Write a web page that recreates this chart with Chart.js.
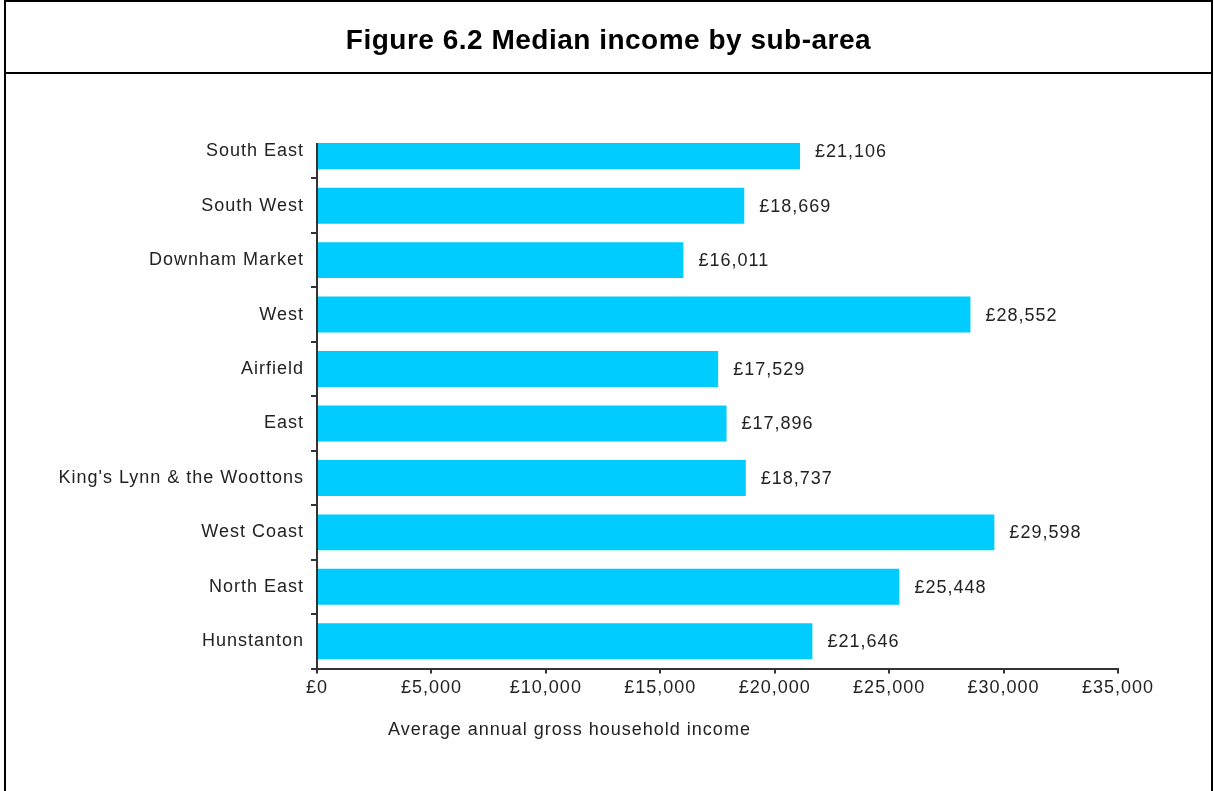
<!DOCTYPE html>
<html>
<head>
<meta charset="utf-8">
<title>Figure 6.2 Median income by sub-area</title>
<script src="https://cdn.jsdelivr.net/npm/chart.js@4.4.1/dist/chart.umd.min.js"></script>
<style>
  html, body { margin: 0; padding: 0; background: #fff; }
  body { width: 1214px; height: 791px; overflow: hidden; position: relative;
         font-family: "Liberation Sans", Arial, sans-serif; }
  #chart { position: absolute; left: 0; top: 0; }
  .frame { position: absolute; left: 4px; top: 0; width: 1205px; height: 820px;
           border: 2px solid #000; pointer-events: none; }
  .header { position: absolute; left: 0; top: 0; width: 100%; height: 70px;
            border-bottom: 2px solid #000; }
  .header h1 { margin: 0; position: absolute; left: 0; right: 0; top: 24px;
               font-size: 28px; line-height: 28px; font-weight: bold;
               letter-spacing: 0.5px; text-align: center; color: #000; }
</style>
</head>
<body>
<canvas id="chart" width="1214" height="791"></canvas>
<div class="frame">
  <div class="header"><h1>Figure 6.2 Median income by sub-area</h1></div>
</div>
<script>
// Sub-areas, top to bottom
const categories = [
  'South East', 'South West', 'Downham Market', 'West', 'Airfield', 'East',
  "King's Lynn & the Woottons", 'West Coast', 'North East', 'Hunstanton'
];
// Median annual gross household income (£)
const medianIncome = [21106, 18669, 16011, 28552, 17529, 17896, 18737, 29598, 25448, 21646];
// Income axis ticks (£)
const incomeTicks = [0, 5000, 10000, 15000, 20000, 25000, 30000, 35000];
const axisTitle = 'Average annual gross household income';

const FONT = '"Liberation Sans", Arial, sans-serif';
const INK = '#222';
const AXIS = '#333';
const TOP_TRIM = 19; // the first band is trimmed at the top of the plot

const fmt = v => '£' + Number(v).toLocaleString('en-GB');

// Slightly spaced lettering for all canvas text
const spacing = {
  id: 'spacing',
  beforeDraw(chart) { chart.ctx.letterSpacing = '1px'; }
};

// Vertical category axis line, starting where the plot begins
const yAxisLine = {
  id: 'yAxisLine',
  afterDatasetsDraw(chart) {
    const { ctx, chartArea: a } = chart;
    ctx.save();
    ctx.strokeStyle = AXIS;
    ctx.lineWidth = 2;
    ctx.beginPath();
    ctx.moveTo(a.left, a.top + TOP_TRIM);
    ctx.lineTo(a.left, a.bottom);
    ctx.stroke();
    ctx.restore();
  }
};

// Value labels to the right of each bar
const valueLabels = {
  id: 'valueLabels',
  afterDatasetsDraw(chart) {
    const ctx = chart.ctx;
    const meta = chart.getDatasetMeta(0);
    ctx.save();
    ctx.font = '18px ' + FONT;
    ctx.fillStyle = INK;
    ctx.textAlign = 'left';
    ctx.textBaseline = 'middle';
    meta.data.forEach((bar, i) => {
      ctx.fillText(fmt(medianIncome[i]), bar.x + 15, bar.y + 1);
    });
    ctx.restore();
  }
};

// Income axis title
const xTitle = {
  id: 'xTitle',
  afterDraw(chart) {
    const { ctx, chartArea: a } = chart;
    ctx.save();
    ctx.font = '18px ' + FONT;
    ctx.fillStyle = INK;
    ctx.textAlign = 'left';
    ctx.textBaseline = 'alphabetic';
    ctx.fillText(axisTitle, a.left + 71, a.bottom + 66);
    ctx.restore();
  }
};

new Chart(document.getElementById('chart'), {
  type: 'bar',
  data: {
    labels: categories,
    datasets: [{
      data: medianIncome,
      backgroundColor: '#00CCFF',
      borderWidth: 0,
      barPercentage: 0.66,
      categoryPercentage: 1,
      clip: { left: 0, top: -TOP_TRIM, right: 0, bottom: 0 }
    }]
  },
  options: {
    indexAxis: 'y',
    responsive: false,
    animation: false,
    events: [],
    layout: { padding: { top: 124, right: 96, left: 0, bottom: 0 } },
    plugins: {
      legend: { display: false },
      tooltip: { enabled: false },
      title: { display: false }
    },
    scales: {
      x: {
        type: 'linear',
        min: incomeTicks[0],
        max: incomeTicks[incomeTicks.length - 1],
        afterBuildTicks(s) { s.ticks = incomeTicks.map(v => ({ value: v })); },
        afterFit(s) { s.height = 122.5; },
        ticks: {
          font: { size: 18, family: FONT },
          color: INK,
          padding: 4,
          maxRotation: 0,
          autoSkip: false,
          callback: v => fmt(v)
        },
        grid: { drawOnChartArea: false, drawTicks: true, tickLength: 5, color: AXIS, lineWidth: 2 },
        border: { display: true, color: AXIS, width: 2 }
      },
      y: {
        afterFit(s) { s.width = 317; },
        ticks: {
          font: { size: 18, family: FONT },
          color: INK,
          padding: 7,
          autoSkip: false
        },
        grid: {
          offset: true,
          drawOnChartArea: false,
          drawTicks: true,
          tickLength: 6,
          lineWidth: 2,
          color: c => (c.index === 0 ? 'rgba(0,0,0,0)' : AXIS)
        },
        border: { display: false }
      }
    }
  },
  plugins: [spacing, yAxisLine, valueLabels, xTitle]
});
</script>
</body>
</html>
